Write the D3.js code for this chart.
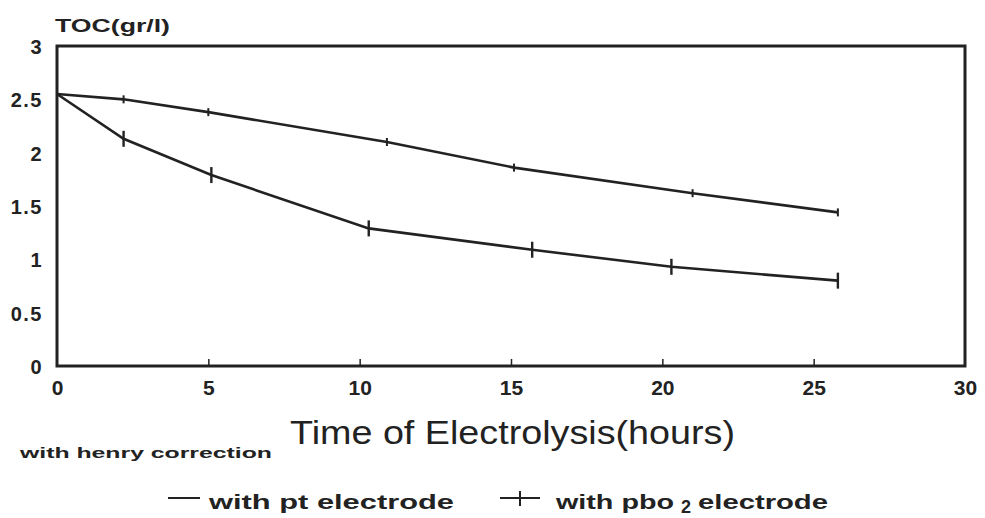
<!DOCTYPE html>
<html>
<head>
<meta charset="utf-8">
<script src="https://cdn.jsdelivr.net/npm/d3@7"></script>
<style>
  body { margin: 0; background: #fff; }
  svg { display: block; }
  text { fill: #222; font-family: "Liberation Sans", Arial, sans-serif; }
</style>
</head>
<body>
<svg id="chart"></svg>
<script>
// 数据
const hoursPt = [0, 2.2, 5, 10.9, 15.1, 21, 25.8];
const tocPt = [2.55, 2.5, 2.38, 2.1, 1.86, 1.62, 1.44];
const hoursPbo = [0, 2.2, 5.1, 10.3, 15.7, 20.3, 25.8];
const tocPbo = [2.55, 2.13, 1.79, 1.29, 1.09, 0.93, 0.8];
const xTicks = [0, 5, 10, 15, 20, 25, 30];
const yTicks = [0, 0.5, 1, 1.5, 2, 2.5, 3];

const width = 985, height = 518;
const margin = { top: 46, right: 20, bottom: 152, left: 57 };
const ink = "#222";

const svg = d3.select("#chart").attr("width", width).attr("height", height);

const x = d3.scaleLinear().domain([0, 30]).range([margin.left, width - margin.right]);
const y = d3.scaleLinear().domain([0, 3]).range([height - margin.bottom, margin.top]);

// 外框
svg.append("rect")
  .attr("x", x(0)).attr("y", y(3))
  .attr("width", x(30) - x(0)).attr("height", y(0) - y(3))
  .attr("fill", "none").attr("stroke", ink).attr("stroke-width", 3);

// x 轴
const xAxis = svg.append("g")
  .attr("transform", `translate(0,${y(0)})`)
  .call(d3.axisBottom(x).tickValues(xTicks).tickSize(-7).tickPadding(23).tickFormat(d3.format("d")));
xAxis.select(".domain").remove();
xAxis.selectAll("line").attr("stroke", ink).attr("stroke-width", 1.5)
  .filter(d => d === 0 || d === 30).remove();
xAxis.selectAll("text").attr("font-size", 21).attr("font-weight", "bold")
  .attr("fill", ink).attr("dy", "0.3em");

// y 轴
const yAxis = svg.append("g")
  .attr("transform", `translate(${x(0)},0)`)
  .call(d3.axisLeft(y).tickValues(yTicks).tickSize(0).tickPadding(14).tickFormat(d => d));
yAxis.select(".domain").remove();
yAxis.selectAll("text").attr("font-size", 20).attr("font-weight", "bold")
  .attr("letter-spacing", 1.5).attr("fill", ink).attr("dy", "0.38em");

// 轴标题
svg.append("text").attr("x", 55).attr("y", 32)
  .attr("font-size", 19).attr("font-weight", "bold")
  .attr("textLength", 115).attr("lengthAdjust", "spacingAndGlyphs").text("TOC(gr/l)");

svg.append("text").attr("x", 290).attr("y", 444)
  .attr("font-family", "'Liberation Sans Narrow', 'Liberation Sans', Arial, sans-serif")
  .attr("font-size", 33).attr("textLength", 445).attr("lengthAdjust", "spacingAndGlyphs")
  .text("Time of Electrolysis(hours)");

svg.append("text").attr("x", 20).attr("y", 458)
  .attr("font-size", 14).attr("font-weight", "bold")
  .attr("textLength", 252).attr("lengthAdjust", "spacingAndGlyphs")
  .text("with henry correction");

// 折线
const line = d3.line().x(d => x(d[0])).y(d => y(d[1]));
const ptData = hoursPt.map((h, i) => [h, tocPt[i]]);
const pboData = hoursPbo.map((h, i) => [h, tocPbo[i]]);

svg.append("path").datum(ptData).attr("d", line)
  .attr("fill", "none").attr("stroke", ink).attr("stroke-width", 2.6);
svg.append("path").datum(pboData).attr("d", line)
  .attr("fill", "none").attr("stroke", ink).attr("stroke-width", 2.6);

// 标记
svg.append("g").selectAll("line").data(ptData.slice(1)).join("line")
  .attr("x1", d => x(d[0])).attr("x2", d => x(d[0]))
  .attr("y1", d => y(d[1]) - 4).attr("y2", d => y(d[1]) + 4)
  .attr("stroke", ink).attr("stroke-width", 2);
svg.append("g").selectAll("line").data(pboData.slice(1)).join("line")
  .attr("x1", d => x(d[0])).attr("x2", d => x(d[0]))
  .attr("y1", d => y(d[1]) - 8).attr("y2", d => y(d[1]) + 8)
  .attr("stroke", ink).attr("stroke-width", 2.4);

// 图例
const leg = svg.append("g").attr("font-size", 20).attr("font-weight", "bold");
leg.append("line").attr("x1", 168).attr("x2", 200).attr("y1", 498).attr("y2", 498)
  .attr("stroke", ink).attr("stroke-width", 2);
leg.append("text").attr("x", 209).attr("y", 509)
  .attr("textLength", 245).attr("lengthAdjust", "spacingAndGlyphs").text("with pt electrode");
leg.append("line").attr("x1", 500).attr("x2", 540).attr("y1", 498).attr("y2", 498)
  .attr("stroke", ink).attr("stroke-width", 2);
leg.append("line").attr("x1", 520).attr("x2", 520).attr("y1", 491).attr("y2", 506)
  .attr("stroke", ink).attr("stroke-width", 2);
leg.append("text").attr("x", 556).attr("y", 509)
  .attr("textLength", 118).attr("lengthAdjust", "spacingAndGlyphs").text("with pbo");
leg.append("text").attr("x", 681).attr("y", 513).attr("font-size", 18).text("2");
leg.append("text").attr("x", 698).attr("y", 509)
  .attr("textLength", 130).attr("lengthAdjust", "spacingAndGlyphs").text("electrode");
</script>
</body>
</html>
